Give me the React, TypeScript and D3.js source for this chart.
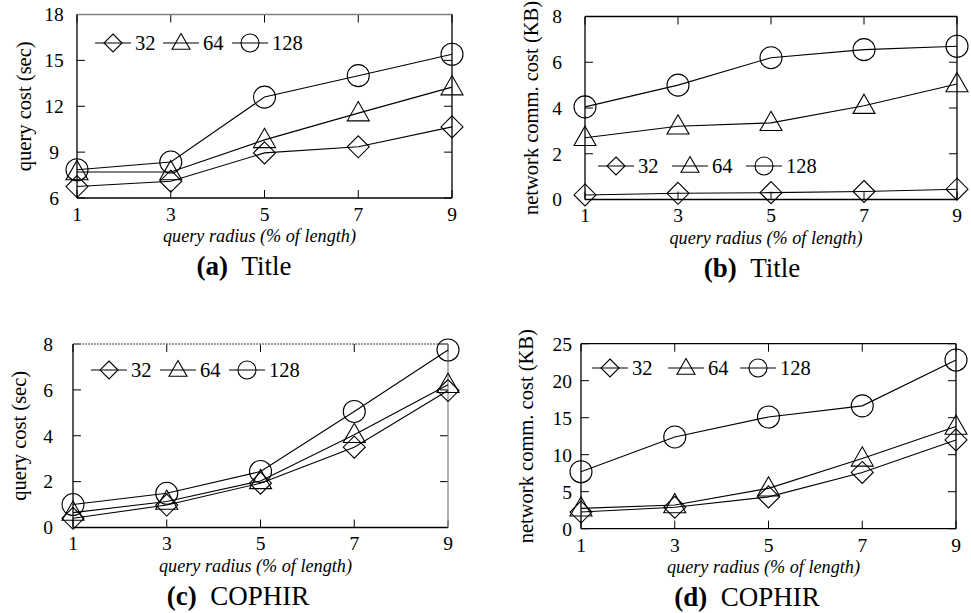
import React from 'react';
import * as d3 from 'd3';

// query radius (% of length)
const radius = [1, 3, 5, 7, 9];
const seriesNames = ['32', '64', '128'];
const markerTypes = ['diamond', 'triangle', 'circle'];

// (a) Title - query cost (sec)
const titleQuery32 = [6.75, 7.1, 8.95, 9.35, 10.65];
const titleQuery64 = [7.7, 7.7, 9.8, 11.55, 13.25];
const titleQuery128 = [7.85, 8.35, 12.6, 14.0, 15.4];
const titleQueryTicks = [6, 9, 12, 15, 18];

// (b) Title - network comm. cost (KB)
const titleNet32 = [0.2, 0.27, 0.3, 0.35, 0.45];
const titleNet64 = [2.7, 3.2, 3.35, 4.1, 5.05];
const titleNet128 = [4.05, 5.0, 6.2, 6.55, 6.7];
const titleNetTicks = [0, 2, 4, 6, 8];

// (c) COPHIR - query cost (sec)
const cophirQuery32 = [0.4, 0.98, 1.93, 3.5, 5.97];
const cophirQuery64 = [0.65, 1.13, 2.03, 4.04, 6.22];
const cophirQuery128 = [1.0, 1.49, 2.44, 5.06, 7.74];
const cophirQueryTicks = [0, 2, 4, 6, 8];

// (d) COPHIR - network comm. cost (KB)
const cophirNet32 = [2.25, 2.9, 4.3, 7.6, 12.0];
const cophirNet64 = [2.75, 3.2, 5.45, 9.5, 13.8];
const cophirNet128 = [7.7, 12.4, 15.1, 16.6, 22.8];
const cophirNetTicks = [0, 5, 10, 15, 20, 25];

const FONT = '"Liberation Serif", "Times New Roman", serif';

const panels = [
  {
    tag: '(a)', caption: 'Title', ylabel: 'query cost (sec)',
    series: [titleQuery32, titleQuery64, titleQuery128], yTicks: titleQueryTicks,
    left: 77, right: 452, top: 14.5, bottom: 198,
    yLabelX: 54, yLabelAnchor: 'middle', ytitleX: 24,
    legendX: [95, 163, 232], legendY: 43, captionX: 244,
    topStroke: '#808080', topDash: null, rightStroke: '#000',
  },
  {
    tag: '(b)', caption: 'Title', ylabel: 'network comm. cost (KB)',
    series: [titleNet32, titleNet64, titleNet128], yTicks: titleNetTicks,
    left: 585, right: 957, top: 16.5, bottom: 199.5,
    yLabelX: 562, yLabelAnchor: 'end', ytitleX: 531,
    legendX: [598, 672, 746], legendY: 166, captionX: 752,
    topStroke: '#000', topDash: null, rightStroke: '#000',
  },
  {
    tag: '(c)', caption: 'COPHIR', ylabel: 'query cost (sec)',
    series: [cophirQuery32, cophirQuery64, cophirQuery128], yTicks: cophirQueryTicks,
    left: 73, right: 448, top: 344, bottom: 527.5,
    yLabelX: 53, yLabelAnchor: 'end', ytitleX: 19,
    legendX: [91, 160, 229], legendY: 370, captionX: 238,
    topStroke: '#808080', topDash: '2,1', rightStroke: '#888',
  },
  {
    tag: '(d)', caption: 'COPHIR', ylabel: 'network comm. cost (KB)',
    series: [cophirNet32, cophirNet64, cophirNet128], yTicks: cophirNetTicks,
    left: 581, right: 956, top: 343.7, bottom: 528.7,
    yLabelX: 572, yLabelAnchor: 'end', ytitleX: 526,
    legendX: [592, 668, 740], legendY: 368, captionX: 747,
    topStroke: '#000', topDash: null, rightStroke: '#000',
  },
];

const Marker = ({ type, x, y, s }: { type: string; x: number; y: number; s: number }) => {
  if (type === 'circle') {
    return <circle cx={x} cy={y} r={s} fill="none" stroke="#000" strokeWidth={1.1} />;
  }
  if (type === 'diamond') {
    return (
      <path d={`M${x},${y - s}L${x + s},${y}L${x},${y + s}L${x - s},${y}Z`}
        fill="none" stroke="#000" strokeWidth={1.1} />
    );
  }
  const h = s * 1.75;
  return (
    <path d={`M${x},${y - h * 0.6}L${x + s},${y + h * 0.4}L${x - s},${y + h * 0.4}Z`}
      fill="none" stroke="#000" strokeWidth={1.1} />
  );
};

const Panel = ({ p }: { p: any }) => {
  const x = d3.scaleLinear().domain([1, 9]).range([p.left, p.right]);
  const yTicks: number[] = p.yTicks;
  const y = d3.scaleLinear().domain([yTicks[0], yTicks[yTicks.length - 1]]).range([p.bottom, p.top]);
  const line = d3.line<number>().x((_, i) => x(radius[i])).y(d => y(d));
  const tickLen = 8;

  return (
    <g>
      {/* ticks, mirrored on all sides */}
      {yTicks.map(t => (
        <g key={'y' + t}>
          <line x1={p.left} x2={p.left + tickLen} y1={y(t)} y2={y(t)} stroke="#000" />
          <line x1={p.right} x2={p.right - tickLen} y1={y(t)} y2={y(t)} stroke="#000" />
          <text x={p.yLabelX} y={y(t)} dy="0.35em" textAnchor={p.yLabelAnchor}
            fontFamily={FONT} fontSize={19.5}>{t}</text>
        </g>
      ))}
      {radius.map(r => (
        <g key={'x' + r}>
          <line x1={x(r)} x2={x(r)} y1={p.bottom} y2={p.bottom - tickLen} stroke="#000" />
          <line x1={x(r)} x2={x(r)} y1={p.top} y2={p.top + tickLen} stroke="#000" />
          <text x={x(r)} y={p.bottom + 16} dy="0.35em" textAnchor="middle"
            fontFamily={FONT} fontSize={19.5}>{r}</text>
        </g>
      ))}

      {/* border */}
      <line x1={p.left} x2={p.right} y1={p.top} y2={p.top} stroke={p.topStroke}
        strokeWidth={1.3} strokeDasharray={p.topDash || undefined} />
      <line x1={p.left} x2={p.left} y1={p.top} y2={p.bottom} stroke="#000" strokeWidth={1.3} />
      <line x1={p.left} x2={p.right} y1={p.bottom} y2={p.bottom} stroke="#000" strokeWidth={1.3} />
      <line x1={p.right} x2={p.right} y1={p.top} y2={p.bottom} stroke={p.rightStroke} strokeWidth={1.3} />

      {/* series */}
      {p.series.map((vals: number[], si: number) => (
        <g key={'s' + si}>
          <path d={line(vals) || ''} fill="none" stroke="#000" strokeWidth={1.1} />
          {vals.map((v, i) => (
            <Marker key={i} type={markerTypes[si]} x={x(radius[i])} y={y(v)} s={11} />
          ))}
        </g>
      ))}

      {/* legend */}
      {seriesNames.map((name, si) => {
        const lx = p.legendX[si];
        return (
          <g key={'l' + si}>
            <line x1={lx} x2={lx + 36} y1={p.legendY} y2={p.legendY} stroke="#000" strokeWidth={1.1} />
            <Marker type={markerTypes[si]} x={lx + 18} y={p.legendY} s={9} />
            <text x={lx + 40} y={p.legendY} dy="0.35em" fontFamily={FONT} fontSize={20.5}>{name}</text>
          </g>
        );
      })}

      {/* axis titles */}
      <text x={(p.left + p.right) / 2 - 5} y={p.bottom + 38} dy="0.35em" textAnchor="middle"
        fontFamily={FONT} fontStyle="italic" fontSize={18.2}>query radius (% of length)</text>
      <text transform={`translate(${p.ytitleX},${(p.top + p.bottom) / 2}) rotate(-90)`}
        dy="0.35em" textAnchor="middle" fontFamily={FONT} fontSize={20.5}>{p.ylabel}</text>

      {/* caption */}
      <text x={p.captionX} y={p.bottom + 77} textAnchor="middle"
        fontFamily={FONT} fontSize={27}>
        <tspan fontWeight="bold">{p.tag}</tspan>
        <tspan>{'\u00a0\u00a0' + p.caption}</tspan>
      </text>
    </g>
  );
};

export default function App() {
  return (
    <svg width={971} height={613} style={{ position: 'absolute', left: 0, top: 0, background: '#fff' }}>
      <rect width={971} height={613} fill="#fff" />
      {panels.map(p => <Panel key={p.tag} p={p} />)}
    </svg>
  );
}
